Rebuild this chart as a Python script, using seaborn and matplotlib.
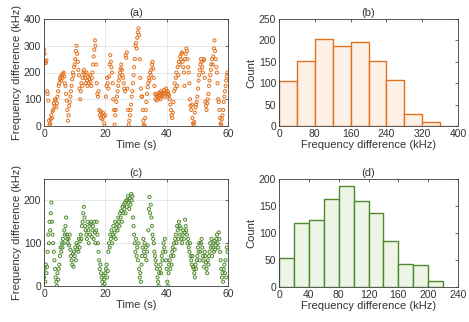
import numpy as np
import pandas as pd
import matplotlib
matplotlib.use("Agg")
import matplotlib.pyplot as plt
import seaborn as sns

# ---------------- data ----------------
dt = 0.2  # sampling step of the time series (s)

# panel (a): frequency difference (kHz), 5 samples per second
freq_a = [
    285, 270, 240, 235, 245,   130, 120, 95, 20, 5,      10, 25, 40, 30, 55,
    60, 85, 75, 100, 95,       70, 85, 110, 130, 150,    160, 175, 185, 170, 190,
    180, 195, 200, 185, 160,   150, 120, 95, 60, 20,     40, 75, 90, 110, 130,
    150, 175, 200, 190, 220,   230, 250, 280, 300, 270,  240, 210, 190, 140, 100,
    130, 160, 150, 180, 200,   210, 195, 180, 160, 200,  170, 150, 185, 160, 175,
    190, 165, 150, 180, 200,   230, 260, 285, 320, 300,  230, 160, 120, 110, 130,
    60, 40, 55, 30, 45,        25, 50, 35, 10, 0,        40, 110, 150, 180, 160,
    140, 185, 230, 265, 240,   220, 200, 160, 100, 60,   5, 40, 60, 90, 110,
    130, 150, 170, 185, 200,   215, 230, 210, 190, 180,  160, 140, 130, 265, 255,
    275, 140, 60, 5, 20,       40, 60, 80, 110, 130,     160, 190, 220, 250, 300,
    310, 290, 330, 350, 365,   340, 250, 180, 140, 110,  110, 60, 20, 5, 0,
    30, 60, 90, 120, 145,      160, 180, 170, 200, 190,  210, 230, 240, 215, 180,
    150, 120, 100, 115, 95,    110, 120, 105, 125, 115,  100, 130, 115, 110, 125,
    120, 135, 110, 125, 140,   125, 110, 130, 120, 115,  100, 80, 60, 40, 30,
    50, 90, 130, 160, 140,     180, 200, 150, 220, 190,  240, 230, 260, 250, 270,
    275, 240, 220, 200, 150,   250, 270, 290, 280, 250,  220, 200, 160, 100, 75,
    60, 80, 30, 10, 5,         15, 50, 70, 80, 90,       110, 140, 170, 190, 210,
    230, 250, 240, 220, 200,   245, 250, 180, 90, 75,    60, 85, 100, 120, 150,
    170, 190, 210, 230, 250,   230, 260, 290, 320, 280,  250, 220, 200, 160, 100,
    90, 60, 30, 10, 5,         25, 40, 60, 90, 110,      130, 150, 170, 185, 200,
]

# panel (c): frequency difference (kHz), 5 samples per second
freq_c = [
    20, 40, 10, 50, 30,        45, 80, 120, 100, 150,    130, 170, 195, 150, 120,
    100, 80, 60, 40, 20,       10, 0, 30, 15, 40,        50, 70, 90, 80, 100,
    90, 110, 100, 130, 120,    140, 160, 120, 110, 100,  110, 95, 120, 85, 70,
    60, 50, 75, 45, 80,        70, 90, 60, 100, 85,      95, 80, 110, 90, 105,
    120, 110, 140, 150, 170,   185, 160, 140, 130, 120,  110, 150, 130, 100, 140,
    120, 145, 150, 115, 130,   140, 110, 150, 125, 100,  130, 150, 120, 100, 80,
    60, 40, 50, 30, 20,        10, 0, 25, 15, 5,         30, 40, 50, 20, 35,
    80, 100, 90, 120, 110,     130, 100, 120, 140, 115,  125, 150, 110, 135, 145,
    130, 160, 150, 140, 170,   160, 175, 150, 185, 170,  190, 180, 195, 170, 200,
    185, 200, 210, 195, 180,   205, 190, 215, 200, 210,  160, 140, 120, 100, 80,
    110, 70, 90, 60, 100,      40, 20, 30, 10, 50,       70, 90, 110, 80, 100,
    70, 90, 60, 80, 95,        130, 180, 208, 170, 190,  160, 140, 120, 110, 100,
    80, 70, 60, 50, 40,        20, 10, 0, 30, 40,        50, 30, 70, 60, 80,
    100, 90, 110, 80, 60,      40, 10, 0, 30, 50,        60, 40, 70, 50, 80,
    90, 70, 100, 85, 110,      120, 100, 140, 130, 110,  150, 140, 120, 135, 110,
    100, 120, 130, 110, 125,   155, 140, 130, 120, 100,  110, 90, 80, 100, 70,
    60, 50, 70, 45, 40,        30, 20, 50, 40, 60,       70, 90, 80, 100, 60,
    80, 100, 110, 90, 70,      60, 45, 80, 70, 55,       40, 30, 60, 50, 70,
    80, 100, 90, 110, 70,      90, 100, 80, 105, 85,     95, 110, 120, 100, 90,
    125, 110, 80, 60, 40,      20, 30, 10, 40, 50,       30, 60, 20, 90, 80,
]

# panel (b) histogram: bin edges and counts
edges_b = [0, 40, 80, 120, 160, 200, 240, 280, 320, 360, 400]
counts_b = [106, 151, 203, 187, 196, 152, 108, 28, 9, 1]

# panel (d) histogram: bin edges and counts
edges_d = [0, 20, 40, 60, 80, 100, 120, 140, 160, 180, 200, 220]
counts_d = [54, 119, 124, 163, 187, 159, 137, 85, 42, 40, 12]

time_a = np.arange(len(freq_a)) * dt
time_c = np.arange(len(freq_c)) * dt
df_a = pd.DataFrame({"t": time_a, "f": freq_a})
df_c = pd.DataFrame({"t": time_c, "f": freq_c})
centers_b = [(edges_b[i] + edges_b[i + 1]) / 2 for i in range(len(counts_b))]
centers_d = [(edges_d[i] + edges_d[i + 1]) / 2 for i in range(len(counts_d))]

# ---------------- style ----------------
sns.set_theme(style="white")
plt.rcParams["font.family"] = ["Liberation Sans", "DejaVu Sans"]
plt.rcParams["font.size"] = 7.5
plt.rcParams["axes.linewidth"] = 0.6

ORANGE = "#E2711D"
ORANGE_FACE = "#FDF1E7"
GREEN = "#4E8A2C"
GREEN_FACE = "#EEF5E6"
TXT = "#333333"
SPINE = "#3a3a3a"

fig = plt.figure(figsize=(4.69, 3.22), dpi=100)
W, H = 469, 322


def add_ax(left, top, right, bottom):
    return fig.add_axes([left / W, 1 - bottom / H, (right - left) / W, (bottom - top) / H])


ax_a = add_ax(44, 19, 228, 126)
ax_b = add_ax(279, 19, 458, 126)
ax_c = add_ax(44, 179, 228, 286)
ax_d = add_ax(279, 179, 458, 287)

sns.scatterplot(data=df_a, x="t", y="f", ax=ax_a, marker="o", s=5,
                facecolors="none", edgecolor=ORANGE, linewidth=0.7)
sns.scatterplot(data=df_c, x="t", y="f", ax=ax_c, marker="o", s=5,
                facecolors="none", edgecolor=GREEN, linewidth=0.7)

sns.histplot(x=centers_b, weights=counts_b, bins=edges_b, ax=ax_b,
             color=ORANGE_FACE, edgecolor=ORANGE, linewidth=1.0, alpha=1)
sns.histplot(x=centers_d, weights=counts_d, bins=edges_d, ax=ax_d,
             color=GREEN_FACE, edgecolor=GREEN, linewidth=1.0, alpha=1)

# axes settings
ax_a.set(xlim=(0, 60), ylim=(0, 400), xticks=[0, 20, 40, 60], yticks=[0, 100, 200, 300, 400])
ax_c.set(xlim=(0, 60), ylim=(0, 250), xticks=[0, 20, 40, 60], yticks=[0, 100, 200])
ax_b.set(xlim=(0, 400), ylim=(0, 250), xticks=[0, 80, 160, 240, 320, 400],
         yticks=[0, 50, 100, 150, 200, 250])
ax_d.set(xlim=(0, 240), ylim=(0, 200), xticks=[0, 40, 80, 120, 160, 200, 240],
         yticks=[0, 50, 100, 150, 200])

for ax in (ax_a, ax_c):
    ax.grid(True, color="#e3e3e3", linewidth=0.6)
    ax.set_axisbelow(True)
    ax.set_xlabel("Time (s)", fontsize=8, color=TXT, labelpad=1)
    ax.set_ylabel("Frequency difference (kHz)", fontsize=8, color=TXT, labelpad=1)
for ax in (ax_b, ax_d):
    ax.grid(False)
    ax.set_xlabel("Frequency difference (kHz)", fontsize=8, color=TXT, labelpad=1)
    ax.set_ylabel("Count", fontsize=8, color=TXT, labelpad=2)

for ax, lab in zip((ax_a, ax_b, ax_c, ax_d), ("(a)", "(b)", "(c)", "(d)")):
    ax.set_title(lab, fontsize=8, color=TXT, pad=2)
    ax.tick_params(direction="in", length=2.5, width=0.5, labelsize=7.5,
                   colors=TXT, pad=2, top=True, right=True)
    for sp in ax.spines.values():
        sp.set_visible(True)
        sp.set_color(SPINE)
        sp.set_linewidth(0.6)

fig.savefig("out.png", dpi=100, facecolor="white")
